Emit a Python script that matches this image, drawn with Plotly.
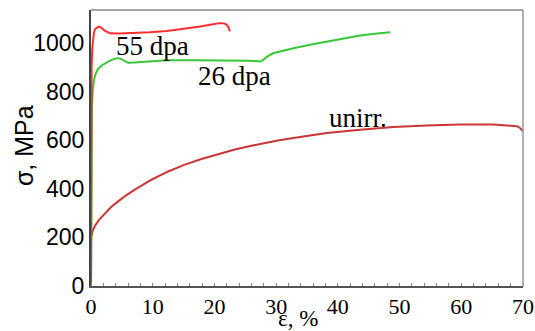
import plotly.graph_objects as go

# unirradiated
unirr_eps = [0, 0.02, 0.3, 0.65, 1.3, 2.27, 3.3, 4.4, 5.7, 7.1, 8.4, 9.8, 12.5, 15.2, 17.9, 20.6, 23.3, 26.0, 28.2,
             30.5, 32.8, 35.5, 38.2, 43.6, 49.0, 54.4, 59.8, 65.2, 67.9, 69.0, 69.5, 70.0]
unirr_sig = [0, 200, 228, 248, 272, 300, 326, 348, 373, 396, 417, 437, 471, 499, 522, 543, 561, 577, 589,
             599, 609, 620, 629, 643, 654, 660, 664, 664, 661, 657, 650, 636]

# 26 dpa
d26_eps = [0, 0.05, 0.15, 0.3, 0.5, 0.8, 1.2, 1.8, 2.4, 3.0, 3.6, 4.2, 4.8, 5.4, 6.0, 7.0, 8.0, 10.0, 12.3,
           17.0, 23.0, 25.5, 27.0, 27.4, 27.9, 28.6, 29.5, 31.0, 32.8, 35.5, 38.2, 41.0, 43.6, 46.0, 48.5]
d26_sig = [0, 630, 740, 807, 850, 876, 895, 908, 918, 926, 932, 937, 935, 925, 918, 919, 921, 925, 928,
           928, 928, 926, 924, 923, 930, 944, 957, 968, 978, 992, 1005, 1018, 1030, 1037, 1043]

# 55 dpa
d55_eps = [0, 0.05, 0.1, 0.2, 0.3, 0.45, 0.6, 0.9, 1.3, 1.7, 2.2, 2.7, 3.1, 4.5, 6.8, 9.5, 12.3, 15.0, 17.7,
           19.5, 20.9, 21.6, 22.0, 22.3, 22.5]
d55_sig = [0, 700, 903, 975, 1012, 1038, 1053, 1062, 1067, 1062, 1050, 1043, 1039, 1038, 1039, 1043, 1049,
           1057, 1067, 1075, 1081, 1080, 1074, 1062, 1047]

labels = ["55 dpa", "26 dpa", "unirr."]
label_x = [9.9, 23.3, 43.2]
label_y = [985, 863, 690]

x_ticks = [0, 10, 20, 30, 40, 50, 60, 70]
y_ticks = [0, 200, 400, 600, 800, 1000]

fig = go.Figure()
fig.add_trace(go.Scatter(x=unirr_eps, y=unirr_sig, mode="lines", line=dict(color="#cc3535", width=2)))
fig.add_trace(go.Scatter(x=d26_eps, y=d26_sig, mode="lines", line=dict(color="#36c836", width=2)))
fig.add_trace(go.Scatter(x=d55_eps, y=d55_sig, mode="lines", line=dict(color="#ff2e2e", width=2)))

for t, x, y in zip(labels, label_x, label_y):
    fig.add_annotation(x=x, y=y, text=t, showarrow=False,
                       font=dict(family="Liberation Serif", size=27, color="black"))

fig.add_annotation(x=0.479, y=-0.165, xref="paper", yref="paper", text="ε, %", showarrow=False,
                   xanchor="center", yanchor="bottom", borderpad=0,
                   font=dict(family="Liberation Serif", size=23, color="black"))
fig.add_annotation(x=-0.155, y=0.507, xref="paper", yref="paper", text="σ, MPa", showarrow=False,
                   xanchor="center", yanchor="middle",
                   textangle=-90, font=dict(family="Liberation Sans", size=25, color="black"))

fig.update_layout(
    width=535, height=331,
    margin=dict(l=91, r=12, t=10, b=45),
    paper_bgcolor="white", plot_bgcolor="white",
    showlegend=False,
    xaxis=dict(range=[0, 70], tickvals=x_ticks, showgrid=False, zeroline=False, automargin=False,
               showline=True, linecolor="#555", linewidth=2, mirror=False,
               ticks="", tickfont=dict(family="Liberation Serif", size=22, color="black"),
               minor=dict(dtick=2, ticks="inside", ticklen=3, tickcolor="#888"),
               ticklabelstandoff=0),
    yaxis=dict(range=[0, 1135], tickvals=y_ticks, showgrid=False, zeroline=False, automargin=False,
               showline=True, linecolor="#444", linewidth=2,
               ticks="", tickfont=dict(family="Liberation Sans", size=23, color="black")),
    shapes=[
        dict(type="line", xref="paper", yref="paper", x0=0, x1=1, y0=1, y1=1, line=dict(color="#888", width=1.5)),
        dict(type="line", xref="paper", yref="paper", x0=1, x1=1, y0=0, y1=1, line=dict(color="#999", width=1.5)),
    ],
)

fig.write_html("out.html", config={"displayModeBar": False},
               post_script="document.body.style.margin='0px';")
